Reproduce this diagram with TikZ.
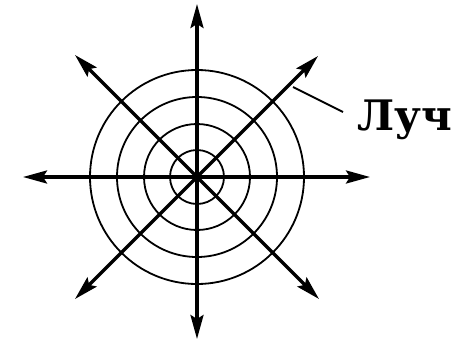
\documentclass[tikz,border=0pt]{standalone}
\usepackage{fontspec}
\newfontfamily\labelfont{DejaVu Serif}
\usetikzlibrary{arrows.meta}
\tikzset{
  ray/.style={line width=3.2pt, -{Stealth[length=24pt,width=13pt,inset=4pt]}},
  ring/.style={line width=1.8pt},
  leader/.style={line width=1.8pt},
  lbl/.style={font=\labelfont\bfseries\fontsize{42}{46}\selectfont, inner sep=0pt}
}
\begin{document}
\begin{tikzpicture}[x=1pt,y=-1pt]
\useasboundingbox (0,0) rectangle (470,340);
\coordinate (C) at (197,177);
\coordinate (N) at (197,4);
\coordinate (S) at (197,339);
\coordinate (W) at (23,177);
\coordinate (E) at (370,177);
\coordinate (NE) at (318,56);
\coordinate (NW) at (75,55);
\coordinate (SW) at (75,299);
\coordinate (SE) at (319,299);
\foreach \r in {27,53,80,107} \draw[ring] (C) circle[radius=\r];
\foreach \p in {N,S,W,E,NE,NW,SW,SE} \draw[ray] (C) -- (\p);
\node[lbl, anchor=base west] (L) at (357,130) {Луч};
\coordinate (LA) at (293,87);
\coordinate (LB) at (343,112);
\draw[leader] (LA) -- (LB);
\end{tikzpicture}
\end{document}
